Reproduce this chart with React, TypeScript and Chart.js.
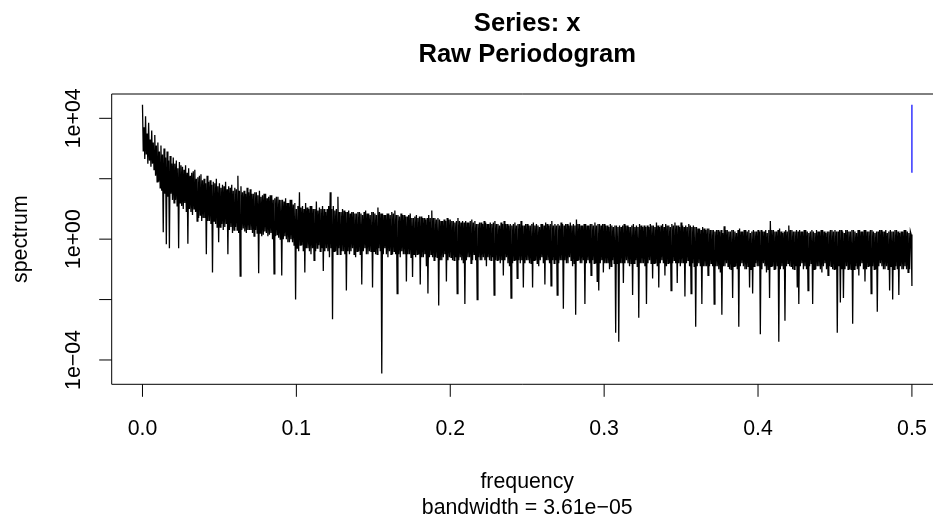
import { useEffect, useRef } from "react";
import { Chart, registerables } from "chart.js";

Chart.register(...registerables);

// ---------- text ----------
const TITLE_LINES = ["Series: x", "Raw Periodogram"];
const X_LABEL = "frequency";
const SUB_LABEL = "bandwidth = 3.61e\u221205";
const Y_LABEL = "spectrum";

// ---------- axes ----------
const X_TICKS = [0, 0.1, 0.2, 0.3, 0.4, 0.5];
const X_TICK_LABELS = ["0.0", "0.1", "0.2", "0.3", "0.4", "0.5"];
const Y_TICKS = [1e-4, 1e-2, 1, 1e2, 1e4];
const Y_TICK_LABELS = ["1e\u221204", "", "1e+00", "", "1e+04"];
const X_MIN = -0.02;
const X_MAX = 0.5137;
const Y_LOG_MIN = -4.805;
const Y_LOG_MAX = 4.805;

// ---------- data: frequency grid step and log10(spectrum) ----------
const FREQ_STEP = 0.0005;

const specLog10_f000 = [
  4.45, 2.9, 3.7, 2.65, 4.07, 2.8, 3.5, 2.5, 3.85, 2.6, 3.3, 2.4, 3.6, 2.5, 3.2, 2.3, 3.45, 2.1, 3.1, 1.9,
  3.2, 1.9, 2.9, 1.7, 3.1, 1.6, 2.8, 0.23, 3.0, 1.5, 2.7, -0.17, 2.9, 1.4, 2.6, -0.3, 2.75, 1.5, 2.5, 1.3,
  2.7, 1.2, 2.5, 1.3, 2.6, 1.1, 2.35, -0.3, 2.55, 1.2, 2.45, 1.1, 2.4, 1.0, 2.3, 1.2, 2.45, 0.9, 2.2, -0.15,
  2.35, 1.0, 2.1, 0.9, 2.2, 0.8, 2.25, 1.0, 2.3, 0.9, 2.0, 0.6, 2.05, 0.7, 2.1, 0.8, 2.15, 0.6, 1.95, 0.7,
  2.0, 0.7, 1.85, -0.5, 2.1, 0.6, 1.9, 0.6, 1.95, 0.5, 1.8, -1.1, 1.9, 0.6, 1.85, 0.5, 2.0, 0.4, 1.75, -0.1,
  1.85, 0.4, 1.7, 0.5, 1.8, 0.3, 1.75, 0.4, 1.9, 0.5, 1.65, -0.5, 1.75, 0.3, 1.7, 0.4, 1.8, 0.2, 1.6, 0.3,
  1.7, 0.4, 1.65, 0.3, 2.1, 0.2, 1.6, -1.22, 1.75, 0.3, 1.55, 0.35, 1.6, 0.25, 1.5, 0.2, 1.7, 0.3, 1.55, 0.3,
  1.65, 0.3, 1.5, 0.2, 1.5, 0.1, 1.55, 0.3, 1.55, 0.2, 1.45, -1.13, 1.6, 0.2, 1.4, 0.1, 1.45, 0.15, 1.5, 0.25,
  1.5, 0.2, 1.35, 0.1, 1.4, 0.15, 1.45, 0.2, 1.45, 0.0, 1.3, -1.15, 1.35, 0.1, 1.4, 0.15, 1.4, 0.05, 1.3, 0.0,
  1.3, -1.2, 1.3, 0.0, 1.25, 0.1, 1.35, 0.0, 1.2, -0.1, 1.2, -0.1, 1.3, 0.0, 1.3, -0.1, 1.15, -0.2, 1.2, -2.0,
];

const specLog10_f100 = [
  1.0, -0.3, 1.1, -0.4, 1.55, -0.2, 1.05, -0.2, 1.1, -0.4, 1.0, -1.1, 1.2, -0.3, 1.05, -0.3, 1.0, -0.4, 1.1, -0.5,
  1.1, -0.3, 1.0, -0.7, 1.0, -0.4, 1.25, -0.3, 0.95, -0.2, 1.05, -0.4, 1.0, -0.3, 1.1, -1.05, 1.0, -0.4, 0.9, -0.3,
  1.0, -0.4, 1.1, -0.6, 1.55, -0.3, 1.0, -2.65, 1.1, -0.4, 0.95, -0.4, 1.0, -0.5, 1.4, -0.3, 0.9, -0.5, 0.9, -0.4,
  1.0, -0.4, 0.95, -0.5, 0.9, -1.7, 0.9, -0.4, 0.95, -0.5, 0.85, -0.4, 0.9, -0.3, 0.9, -0.5, 0.85, -0.6, 0.85, -0.4,
  0.9, -0.4, 0.9, -0.5, 0.85, -1.5, 0.8, -0.4, 0.9, -0.3, 0.95, -0.5, 0.85, -0.5, 0.85, -0.4, 0.8, -0.4, 0.9, -1.6,
  0.9, -0.4, 0.85, -0.5, 0.8, -0.5, 1.05, -0.3, 0.9, -0.4, 0.85, -4.45, 0.85, -0.5, 0.8, -0.3, 0.8, -0.5, 0.85, -0.6,
  0.85, -0.4, 0.8, -0.5, 0.9, -0.5, 0.85, -0.4, 0.95, -0.5, 0.8, -1.8, 0.8, -0.5, 0.75, -0.6, 0.85, -0.4, 0.8, -0.5,
  0.8, -0.5, 0.75, -1.4, 0.75, -0.5, 0.8, -0.5, 0.85, -0.6, 0.7, -1.25, 0.7, -0.5, 0.75, -0.6, 0.8, -0.5, 0.7, -0.5,
  0.75, -1.5, 0.75, -0.6, 0.7, -0.6, 0.7, -0.5, 0.65, -0.9, 0.7, -1.8, 0.8, -0.6, 0.7, -0.5, 0.95, -0.6, 0.7, -0.7,
  0.7, -0.6, 0.65, -0.6, 0.7, -2.2, 0.65, -0.7, 0.6, -0.7, 0.6, -0.6, 0.65, -0.5, 0.6, -1.4, 0.7, -0.7, 0.65, -0.6,
];

const specLog10_f200 = [
  0.65, -0.6, 0.6, -0.7, 0.6, -0.7, 0.55, -0.6, 0.6, -1.8, 0.7, -0.7, 0.6, -0.6, 0.55, -0.7, 0.6, -0.8, 0.55, -2.15,
  0.6, -0.7, 0.55, -0.6, 0.55, -0.6, 0.6, -0.8, 0.65, -0.7, 0.55, -0.5, 0.6, -0.7, 0.5, -2.0, 0.5, -0.6, 0.55, -0.7,
  0.55, -0.7, 0.5, -0.6, 0.6, -0.7, 0.55, -0.9, 0.5, -0.6, 0.5, -0.7, 0.55, -0.7, 0.5, -0.6, 0.55, -1.85, 0.6, -0.7,
  0.5, -0.7, 0.5, -0.7, 0.45, -0.8, 0.55, -0.7, 0.5, -1.2, 0.6, -0.7, 0.5, -0.6, 0.5, -0.8, 0.45, -0.9, 0.5, -1.95,
  0.45, -0.8, 0.5, -0.7, 0.55, -0.7, 0.45, -1.3, 0.5, -0.7, 0.5, -0.8, 0.6, -0.7, 0.45, -1.6, 0.45, -0.8, 0.5, -0.7,
  0.5, -0.7, 0.45, -0.8, 0.45, -0.8, 0.5, -1.6, 0.55, -0.7, 0.45, -0.7, 0.5, -0.8, 0.45, -0.9, 0.4, -0.7, 0.5, -0.6,
  0.5, -0.8, 0.45, -1.5, 0.55, -0.7, 0.5, -0.7, 0.45, -0.8, 0.5, -1.55, 0.6, -0.7, 0.45, -0.8, 0.5, -0.7, 0.45, -1.85,
  0.5, -0.8, 0.45, -0.7, 0.55, -0.7, 0.5, -2.3, 0.45, -0.7, 0.5, -0.8, 0.5, -0.8, 0.45, -0.6, 0.55, -0.7, 0.45, -0.9,
  0.5, -0.8, 0.45, -2.5, 0.65, -0.7, 0.5, -0.7, 0.5, -0.8, 0.45, -0.8, 0.45, -0.7, 0.5, -2.15, 0.5, -0.8, 0.45, -0.7,
  0.45, -0.8, 0.5, -1.2, 0.5, -0.7, 0.45, -0.8, 0.55, -0.8, 0.45, -1.4, 0.5, -1.7, 0.5, -0.8, 0.45, -0.7, 0.5, -1.1,
];

const specLog10_f300 = [
  0.5, -0.8, 0.45, -0.8, 0.45, -0.8, 0.4, -1.0, 0.5, -0.9, 0.45, -0.7, 0.4, -0.8, 0.45, -3.1, 0.45, -0.8, 0.4, -3.4,
  0.45, -0.8, 0.4, -0.8, 0.45, -1.45, 0.5, -0.8, 0.45, -0.7, 0.45, -0.8, 0.4, -0.9, 0.4, -0.8, 0.45, -1.85, 0.5, -0.8,
  0.4, -0.7, 0.45, -0.9, 0.4, -2.6, 0.5, -0.8, 0.45, -0.8, 0.4, -0.8, 0.45, -0.9, 0.4, -2.15, 0.45, -0.8, 0.4, -0.7,
  0.5, -0.8, 0.45, -1.3, 0.45, -0.8, 0.4, -0.8, 0.55, -0.9, 0.45, -1.6, 0.4, -0.8, 0.45, -0.7, 0.5, -0.8, 0.4, -1.2,
  0.5, -0.9, 0.45, -0.8, 0.45, -0.8, 0.4, -1.7, 0.5, -0.8, 0.45, -0.7, 0.55, -0.8, 0.45, -1.45, 0.45, -0.8, 0.4, -0.9,
  0.55, -0.8, 0.45, -0.8, 0.4, -1.9, 0.45, -0.8, 0.4, -0.7, 0.5, -0.9, 0.45, -1.8, 0.4, -0.8, 0.45, -0.9, 0.4, -2.9,
  0.4, -0.9, 0.35, -0.8, 0.35, -0.9, 0.3, -2.15, 0.4, -0.9, 0.35, -0.9, 0.3, -0.9, 0.35, -1.2, 0.35, -0.9, 0.3, -0.8,
  0.3, -0.9, 0.3, -2.15, 0.25, -0.9, 0.3, -0.9, 0.3, -1.0, 0.25, -1.1, 0.3, -2.5, 0.2, -0.9, 0.43, -0.9, 0.3, -0.8,
  0.3, -0.9, 0.25, -1.0, 0.25, -1.0, 0.3, -1.95, 0.3, -0.9, 0.25, -0.9, 0.2, -1.0, 0.3, -2.9, 0.35, -0.9, 0.25, -0.8,
  0.25, -0.9, 0.3, -1.0, 0.3, -1.0, 0.25, -0.9, 0.3, -1.6, 0.2, -1.0, 0.25, -1.8, 0.3, -0.9, 0.25, -0.8, 0.25, -0.9,
];

const specLog10_f400 = [
  0.3, -0.9, 0.25, -3.15, 0.3, -1.0, 0.25, -0.8, 0.25, -0.9, 0.3, -1.1, 0.2, -1.0, 0.3, -1.95, 0.6, -0.9, 0.3, -0.9,
  0.3, -1.0, 0.25, -1.0, 0.25, -0.9, 0.3, -3.4, 0.35, -1.0, 0.25, -0.9, 0.2, -1.0, 0.25, -2.7, 0.3, -0.9, 0.25, -0.8,
  0.45, -0.9, 0.3, -0.9, 0.3, -1.0, 0.25, -1.0, 0.25, -0.9, 0.3, -1.6, 0.25, -2.15, 0.3, -0.9, 0.25, -0.8, 0.25, -1.0,
  0.3, -0.9, 0.3, -1.0, 0.25, -1.7, 0.2, -0.9, 0.25, -0.8, 0.3, -2.15, 0.25, -1.0, 0.2, -1.0, 0.3, -0.9, 0.25, -0.9,
  0.25, -1.0, 0.3, -1.1, 0.3, -0.9, 0.25, -0.8, 0.2, -1.0, 0.25, -1.2, 0.25, -0.9, 0.3, -0.9, 0.3, -1.0, 0.25, -1.0,
  0.3, -1.0, 0.25, -3.1, 0.25, -0.9, 0.3, -2.1, 0.3, -1.0, 0.25, -1.95, 0.2, -1.0, 0.3, -0.9, 0.3, -1.0, 0.25, -1.0,
  0.25, -1.0, 0.3, -2.8, 0.3, -1.0, 0.25, -0.9, 0.2, -1.0, 0.3, -1.2, 0.3, -0.9, 0.25, -0.8, 0.25, -1.0, 0.3, -1.4,
  0.3, -1.0, 0.25, -0.9, 0.25, -0.9, 0.3, -1.8, 0.3, -0.9, 0.25, -1.0, 0.2, -1.0, 0.25, -2.4, 0.25, -0.9, 0.3, -0.8,
  0.3, -0.9, 0.25, -1.0, 0.25, -1.0, 0.3, -0.9, 0.2, -1.0, 0.25, -1.7, 0.3, -0.9, 0.25, -2.0, 0.25, -1.0, 0.3, -0.9,
  0.3, -1.0, 0.25, -1.85, 0.2, -0.9, 0.25, -1.0, 0.25, -1.0, 0.3, -0.9, 0.3, -1.0, 0.25, -1.1, 0.2, -1.0, 0.25, 0.15,
  -1.55,
];

// confidence bar (blue) at frequency 0.5
const CI_FREQ = 0.5;
const CI_LOG10 = [4.45, 2.2];

const FONT = '"Liberation Sans", Arial, Helvetica, sans-serif';

const rAxesPlugin = {
  id: "rAxes",
  afterDraw(chart: any) {
    const { ctx, chartArea: a, scales } = chart;
    const xs = scales.x;
    const ys = scales.y;
    const W = chart.width;
    ctx.save();
    ctx.strokeStyle = "#000";
    ctx.fillStyle = "#000";
    ctx.lineWidth = 1;
    // box (right side lies beyond the picture)
    ctx.beginPath();
    ctx.moveTo(W + 5, a.top);
    ctx.lineTo(a.left, a.top);
    ctx.lineTo(a.left, a.bottom);
    ctx.lineTo(W + 5, a.bottom);
    ctx.stroke();

    // x ticks
    ctx.font = `21.3px ${FONT}`;
    ctx.textAlign = "center";
    ctx.textBaseline = "alphabetic";
    X_TICKS.forEach((v, i) => {
      const px = xs.getPixelForValue(v);
      ctx.beginPath();
      ctx.moveTo(px, a.bottom);
      ctx.lineTo(px, a.bottom + 12.5);
      ctx.stroke();
      ctx.fillText(X_TICK_LABELS[i], px, 435);
    });

    // y ticks
    Y_TICKS.forEach((v, i) => {
      const py = ys.getPixelForValue(v);
      ctx.beginPath();
      ctx.moveTo(a.left, py);
      ctx.lineTo(a.left - 12.5, py);
      ctx.stroke();
      if (Y_TICK_LABELS[i]) {
        ctx.save();
        ctx.translate(80, py);
        ctx.rotate(-Math.PI / 2);
        ctx.fillText(Y_TICK_LABELS[i], 0, 0);
        ctx.restore();
      }
    });

    // axis titles
    const cx = (a.left + xs.getPixelForValue(0.52)) / 2;
    ctx.fillText(X_LABEL, cx, 488.3);
    ctx.fillText(SUB_LABEL, cx, 514);
    ctx.save();
    ctx.translate(27.2, (a.top + a.bottom) / 2);
    ctx.rotate(-Math.PI / 2);
    ctx.fillText(Y_LABEL, 0, 0);
    ctx.restore();

    // main title
    ctx.font = `bold 25.6px ${FONT}`;
    ctx.fillText(TITLE_LINES[0], cx, 31);
    ctx.fillText(TITLE_LINES[1], cx, 61.7);
    ctx.restore();
  },
};

export default function App() {
  const ref = useRef<HTMLCanvasElement | null>(null);

  useEffect(() => {
    if (!ref.current) return;
    const spec = [
      ...specLog10_f000,
      ...specLog10_f100,
      ...specLog10_f200,
      ...specLog10_f300,
      ...specLog10_f400,
    ];
    const specPoints = spec.map((v, i) => ({ x: i * FREQ_STEP, y: Math.pow(10, v) }));
    const ciPoints = CI_LOG10.map((v) => ({ x: CI_FREQ, y: Math.pow(10, v) }));

    const chart = new Chart(ref.current, {
      type: "scatter",
      data: {
        datasets: [
          {
            data: ciPoints,
            showLine: true,
            borderColor: "#0000ff",
            borderWidth: 1.2,
            pointRadius: 0,
          },
          {
            data: specPoints,
            showLine: true,
            borderColor: "#000000",
            borderWidth: 1.3,
            pointRadius: 0,
            tension: 0,
          },
        ],
      },
      options: {
        responsive: false,
        animation: false,
        events: [],
        layout: { padding: { left: 111.7, right: 0, top: 94, bottom: 133.7 } },
        plugins: {
          legend: { display: false },
          tooltip: { enabled: false },
          title: { display: false },
        },
        scales: {
          x: { type: "linear", min: X_MIN, max: X_MAX, display: false },
          y: {
            type: "logarithmic",
            min: Math.pow(10, Y_LOG_MIN),
            max: Math.pow(10, Y_LOG_MAX),
            display: false,
          },
        },
      },
      plugins: [rAxesPlugin],
    });
    return () => chart.destroy();
  }, []);

  return (
    <div style={{ position: "absolute", left: 0, top: 0, width: 933, height: 518, background: "#fff" }}>
      <canvas ref={ref} width={933} height={518} style={{ display: "block", width: 933, height: 518 }} />
    </div>
  );
}
